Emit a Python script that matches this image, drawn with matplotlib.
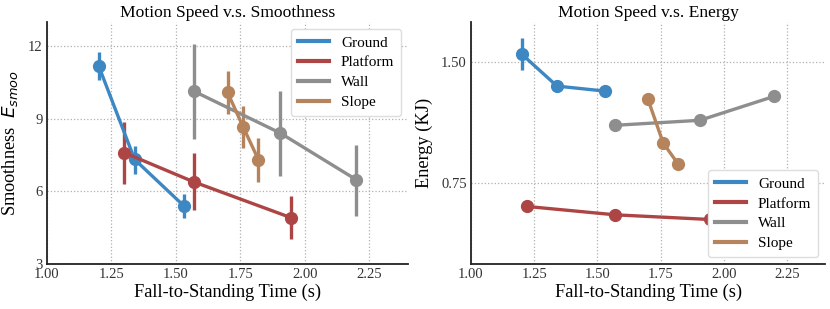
import matplotlib
matplotlib.use("Agg")
import matplotlib.pyplot as plt
from matplotlib.lines import Line2D
import numpy as np

plt.rcParams['font.family'] = ['Liberation Serif', 'DejaVu Serif']
plt.rcParams['mathtext.fontset'] = 'dejavusans'

series = ["Ground", "Platform", "Wall", "Slope"]
colors = ["#3d87c2", "#ad4545", "#8e8e8e", "#b5845c"]

# Smoothness panel
smooth_x = {
    "Ground": [1.20, 1.34, 1.53],
    "Platform": [1.30, 1.57, 1.945],
    "Wall": [1.57, 1.905, 2.20],
    "Slope": [1.70, 1.76, 1.82],
}
smooth_y = {
    "Ground": [11.2, 7.32, 5.41],
    "Platform": [7.6, 6.39, 4.92],
    "Wall": [10.14, 8.41, 6.48],
    "Slope": [10.1, 8.68, 7.31],
}
smooth_lo = {
    "Ground": [10.62, 6.73, 4.9],
    "Platform": [6.32, 5.22, 4.04],
    "Wall": [8.18, 6.62, 5.0],
    "Slope": [9.22, 7.8, 6.41],
}
smooth_hi = {
    "Ground": [11.78, 7.88, 5.9],
    "Platform": [8.89, 7.58, 5.8],
    "Wall": [12.1, 10.15, 7.92],
    "Slope": [10.97, 9.55, 8.19],
}

# Energy panel
energy_x = {
    "Ground": [1.20, 1.34, 1.53],
    "Platform": [1.22, 1.57, 1.945],
    "Wall": [1.57, 1.905, 2.20],
    "Slope": [1.70, 1.76, 1.82],
}
energy_y = {
    "Ground": [1.552, 1.353, 1.322],
    "Platform": [0.607, 0.555, 0.526],
    "Wall": [1.11, 1.141, 1.29],
    "Slope": [1.27, 1.0, 0.868],
}
energy_lo = {
    "Ground": [1.452, 1.345, 1.315],
    "Platform": [0.600, 0.548, 0.519],
    "Wall": [1.103, 1.134, 1.283],
    "Slope": [1.263, 0.993, 0.861],
}
energy_hi = {
    "Ground": [1.649, 1.361, 1.329],
    "Platform": [0.614, 0.562, 0.533],
    "Wall": [1.117, 1.148, 1.297],
    "Slope": [1.277, 1.007, 0.875],
}

fig = plt.figure(figsize=(8.3, 3.09), dpi=100)
ax1 = fig.add_axes([0.0566, 0.1456, 0.435, 0.783])
ax2 = fig.add_axes([0.5675, 0.1456, 0.4265, 0.783])


def draw(ax, X, Y, LO, HI):
    for name, c in zip(series, colors):
        x = np.array(X[name]); y = np.array(Y[name])
        lo = np.array(LO[name]); hi = np.array(HI[name])
        ax.vlines(x, lo, hi, color=c, lw=2.4, zorder=3)
        ax.plot(x, y, color=c, lw=2.4, marker='o', ms=8.5, zorder=4)
    ax.grid(True, linestyle=':', color='#b0b0b0', lw=0.9)
    ax.set_axisbelow(True)
    for s in ['top', 'right']:
        ax.spines[s].set_visible(False)
    for s in ['left', 'bottom']:
        ax.spines[s].set_color('#222222')
        ax.spines[s].set_linewidth(1.3)
    ax.set_xlim(1.0, 2.4)
    ax.set_xticks([1.0, 1.25, 1.5, 1.75, 2.0, 2.25])
    ax.set_xticklabels(["1.00", "1.25", "1.50", "1.75", "2.00", "2.25"])
    ax.tick_params(labelsize=10.5, length=0, pad=3, colors='#333333')
    ax.set_xlabel("Fall-to-Standing Time (s)", fontsize=13.2, labelpad=2)


def legend(ax, loc):
    handles = [Line2D([], [], color=c, lw=3.0) for c in colors]
    leg = ax.legend(handles, series, loc=loc, fontsize=11, frameon=True,
                    handlelength=2.0, borderpad=0.45, labelspacing=0.4,
                    handletextpad=0.8, borderaxespad=0.45)
    leg.get_frame().set_edgecolor('#dddddd')
    leg.get_frame().set_alpha(1)


draw(ax1, smooth_x, smooth_y, smooth_lo, smooth_hi)
ax1.set_ylim(3, 13)
ax1.set_yticks([3, 6, 9, 12])
ax1.set_ylabel("Smoothness  $E_{smoo}$", fontsize=13.2, labelpad=6)
ax1.set_title("Motion Speed v.s. Smoothness", fontsize=12.6, pad=4)
legend(ax1, 'upper right')

draw(ax2, energy_x, energy_y, energy_lo, energy_hi)
ax2.set_ylim(0.25, 1.75)
ax2.set_yticks([0.75, 1.5])
ax2.set_yticklabels(["0.75", "1.50"])
ax2.set_ylabel("Energy (KJ)", fontsize=13.2, labelpad=6)
ax2.set_title("Motion Speed v.s. Energy", fontsize=12.6, pad=4)
legend(ax2, 'lower right')

fig.savefig("out.png", dpi=100)
